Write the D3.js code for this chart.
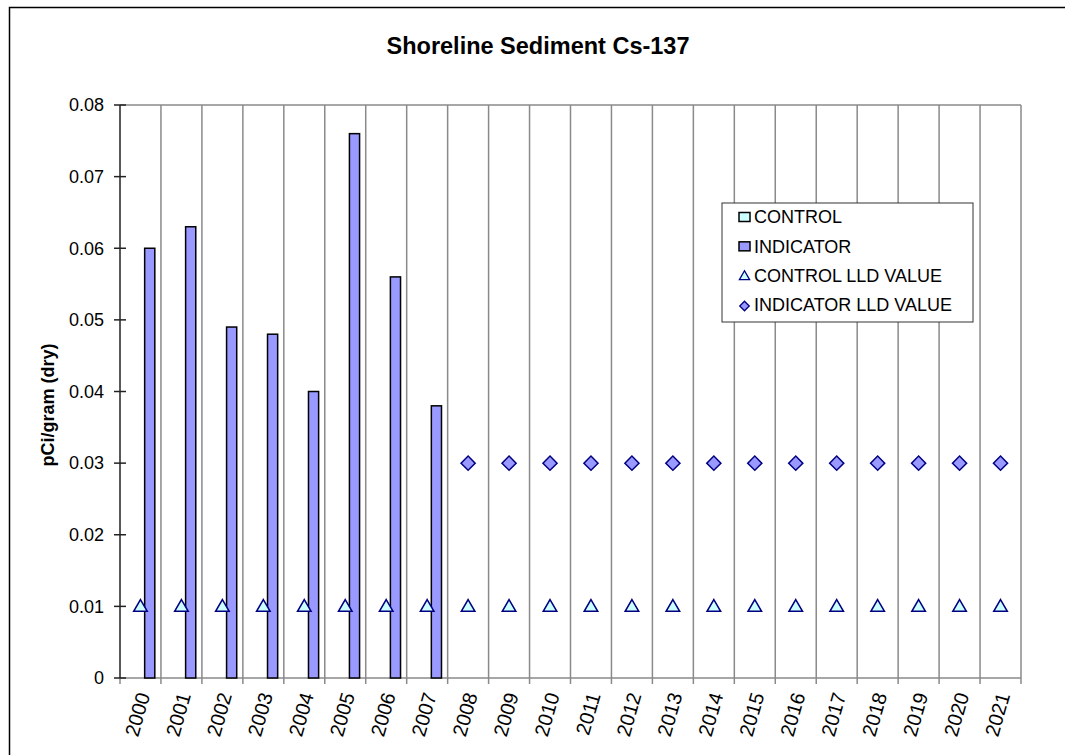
<!DOCTYPE html>
<html>
<head>
<meta charset="utf-8">
<script src="https://cdn.jsdelivr.net/npm/d3@7/dist/d3.min.js"></script>
<style>
  body { margin: 0; background: #fff; }
  text { font-family: "Liberation Sans", Arial, sans-serif; fill: #000; }
</style>
</head>
<body>
<svg id="chart" width="1065" height="755"></svg>
<script>
let years = ["2000","2001","2002","2003","2004","2005","2006","2007","2008","2009","2010",
             "2011","2012","2013","2014","2015","2016","2017","2018","2019","2020","2021"];
let indicator = [0.06, 0.063, 0.049, 0.048, 0.04, 0.076, 0.056, 0.038];   // 2000-2007
let control = [];                                                         // no detections
let controlLLD = [0.01,0.01,0.01,0.01,0.01,0.01,0.01,0.01,0.01,0.01,0.01,
                  0.01,0.01,0.01,0.01,0.01,0.01,0.01,0.01,0.01,0.01,0.01];
let indicatorLLD = [null,null,null,null,null,null,null,null,0.03,0.03,0.03,
                    0.03,0.03,0.03,0.03,0.03,0.03,0.03,0.03,0.03,0.03,0.03];
let yTicks = [0, 0.01, 0.02, 0.03, 0.04, 0.05, 0.06, 0.07, 0.08];
let seriesNames = ["CONTROL", "INDICATOR", "CONTROL LLD VALUE", "INDICATOR LLD VALUE"];

let svg = d3.select("#chart");
let plotLeft = 120, plotRight = 1021, plotTop = 105, plotBottom = 678;

// outer frame
svg.append("rect")
    .attr("x", 9.5).attr("y", 7.5)
    .attr("width", 1070).attr("height", 760)
    .attr("fill", "#fff").attr("stroke", "#000").attr("stroke-width", 1.5);

let x = d3.scaleBand().domain(years).range([plotLeft, plotRight]).padding(0);
let inner = d3.scaleBand().domain(["CONTROL", "INDICATOR"])
    .range([x.bandwidth() * 0.33, x.bandwidth() * 0.85]);
let y = d3.scaleLinear().domain([0, 0.08]).range([plotBottom, plotTop]);

// title
svg.append("text")
    .attr("x", 538).attr("y", 54)
    .attr("text-anchor", "middle")
    .style("font-size", "23.5px").style("font-weight", "bold")
    .text("Shoreline Sediment Cs-137");

// vertical gridlines at category boundaries
let bounds = years.map(d => x(d)).concat([plotRight]);
svg.append("g").selectAll("line")
    .data(bounds.slice(1))
    .enter().append("line")
    .attr("x1", d => d).attr("x2", d => d)
    .attr("y1", plotTop).attr("y2", plotBottom)
    .attr("stroke", "#8a8a8a").attr("stroke-width", 1.5);

// top border of plot
svg.append("line")
    .attr("x1", plotLeft).attr("x2", plotRight)
    .attr("y1", plotTop).attr("y2", plotTop)
    .attr("stroke", "#8a8a8a").attr("stroke-width", 1.5);

// x axis
let xAxis = svg.append("g");
xAxis.append("line")
    .attr("x1", plotLeft).attr("x2", plotRight)
    .attr("y1", plotBottom).attr("y2", plotBottom)
    .attr("stroke", "#8a8a8a").attr("stroke-width", 1.5);
xAxis.selectAll("line.tick")
    .data(bounds)
    .enter().append("line")
    .attr("class", "tick")
    .attr("x1", d => d).attr("x2", d => d)
    .attr("y1", plotBottom).attr("y2", plotBottom + 6)
    .attr("stroke", "#8a8a8a").attr("stroke-width", 1.5);
xAxis.selectAll("text")
    .data(years)
    .enter().append("text")
    .attr("transform", d => `translate(${x(d) + x.bandwidth() / 2 + 3},${plotBottom + 15}) rotate(-74)`)
    .attr("text-anchor", "end")
    .attr("dy", "0.35em")
    .style("font-size", "20px")
    .text(d => d);

// y axis
let yAxis = svg.append("g");
yAxis.append("line")
    .attr("x1", plotLeft).attr("x2", plotLeft)
    .attr("y1", plotTop).attr("y2", plotBottom)
    .attr("stroke", "#222").attr("stroke-width", 1.5);
yAxis.selectAll("line.tick")
    .data(yTicks)
    .enter().append("line")
    .attr("class", "tick")
    .attr("x1", plotLeft - 6).attr("x2", plotLeft + 6)
    .attr("y1", d => y(d)).attr("y2", d => y(d))
    .attr("stroke", "#222").attr("stroke-width", 1.5);
yAxis.selectAll("text")
    .data(yTicks)
    .enter().append("text")
    .attr("x", 104).attr("y", d => y(d))
    .attr("dy", "0.35em")
    .attr("text-anchor", "end")
    .style("font-size", "18px")
    .text(d => d === 0 ? "0" : d3.format(".2f")(d));

svg.append("text")
    .attr("transform", "translate(54,405) rotate(-90)")
    .attr("text-anchor", "middle")
    .style("font-size", "18px").style("font-weight", "bold")
    .text("pCi/gram (dry)");

// bars
let barData = indicator.map((v, i) => ({ year: years[i], value: v, series: "INDICATOR" }))
    .concat(control.map((v, i) => ({ year: years[i], value: v, series: "CONTROL" })));
svg.append("g").selectAll("rect")
    .data(barData)
    .enter().append("rect")
    .attr("x", d => x(d.year) + inner(d.series) + 0.5)
    .attr("width", inner.bandwidth() - 0.5)
    .attr("y", d => y(d.value))
    .attr("height", d => y(0) - y(d.value))
    .attr("fill", d => d.series === "INDICATOR" ? "#9999ff" : "#ccffff")
    .attr("stroke", "#000").attr("stroke-width", 1.5);

// markers
let tri = d3.symbol().type(d3.symbolTriangle).size(80);
let dia = d3.symbol().type(d3.symbolSquare).size(100);

svg.append("g").selectAll("path")
    .data(controlLLD.map((v, i) => ({ year: years[i], value: v })).filter(d => d.value != null))
    .enter().append("path")
    .attr("d", tri)
    .attr("transform", d => `translate(${x(d.year) + x.bandwidth() / 2},${y(d.value) + 1})`)
    .attr("fill", "#ccffff").attr("stroke", "#000080").attr("stroke-width", 1.5);

svg.append("g").selectAll("path")
    .data(indicatorLLD.map((v, i) => ({ year: years[i], value: v })).filter(d => d.value != null))
    .enter().append("path")
    .attr("d", dia)
    .attr("transform", d => `translate(${x(d.year) + x.bandwidth() / 2},${y(d.value)}) rotate(45)`)
    .attr("fill", "#9999ff").attr("stroke", "#000080").attr("stroke-width", 1.5);

// legend
let legend = svg.append("g").attr("transform", "translate(722,203)");
legend.append("rect")
    .attr("width", 251).attr("height", 119)
    .attr("fill", "#fff").attr("stroke", "#333").attr("stroke-width", 1);
let ly = d3.scalePoint().domain(seriesNames).range([14, 102]);
let items = legend.selectAll("g.item")
    .data(seriesNames)
    .enter().append("g")
    .attr("class", "item")
    .attr("transform", d => `translate(0,${ly(d)})`);
items.append("text")
    .attr("x", 32).attr("dy", "0.35em")
    .style("font-size", "18px")
    .text(d => d);
items.each(function (d, i) {
    let g = d3.select(this);
    if (i < 2) {
        g.append("rect")
            .attr("x", 17).attr("y", -4.5).attr("width", 11).attr("height", 9)
            .attr("fill", i === 0 ? "#ccffff" : "#9999ff")
            .attr("stroke", "#000").attr("stroke-width", 1.5);
    } else if (i === 2) {
        g.append("path")
            .attr("d", d3.symbol().type(d3.symbolTriangle).size(45)())
            .attr("transform", "translate(22.5,1)")
            .attr("fill", "#ccffff")
            .attr("stroke", "#000080").attr("stroke-width", 1.3);
    } else {
        g.append("path")
            .attr("d", d3.symbol().type(d3.symbolSquare).size(45)())
            .attr("transform", "translate(22.5,1) rotate(45)")
            .attr("fill", "#9999ff")
            .attr("stroke", "#000080").attr("stroke-width", 1.3);
    }
});
</script>
</body>
</html>
